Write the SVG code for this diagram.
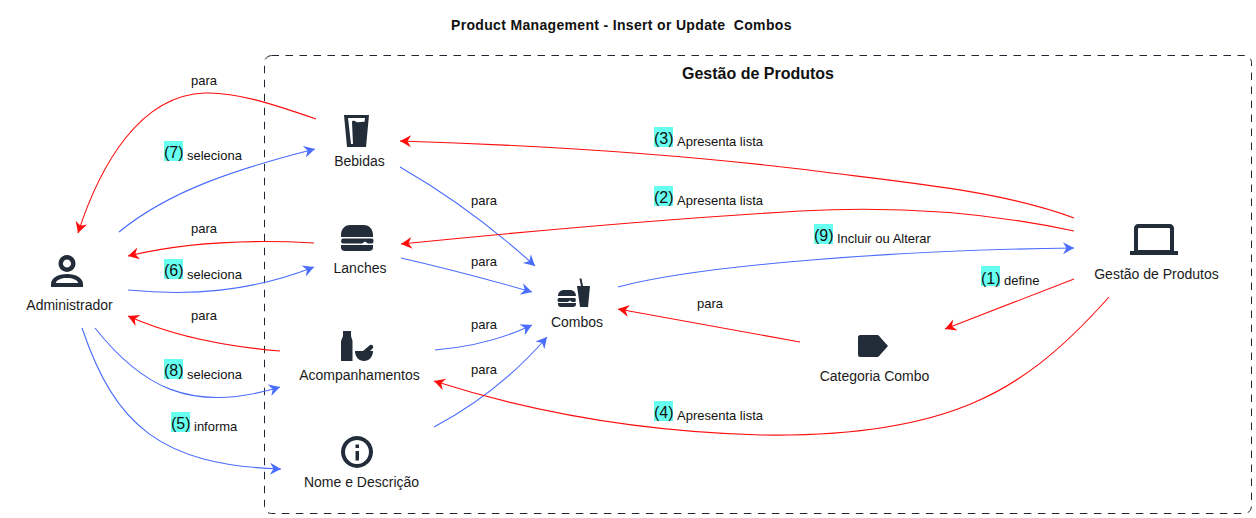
<svg xmlns="http://www.w3.org/2000/svg" width="1256" height="518" viewBox="0 0 1256 518">
<style>
text{font-family:"Liberation Sans",Arial,sans-serif;fill:#111;}
.n{font-size:14px;text-anchor:middle;fill:#1b1b1b}
.l{font-size:13px}
.s{font-size:16px}
.t{font-weight:bold}
.c{fill:none;stroke-width:1.1}
.r{stroke:#ff0d0d;marker-end:url(#mr)}
.b{stroke:#4a6cff;marker-end:url(#mb)}
.i{fill:#232d3a}
.h{fill:#66fff0}
</style>
<defs>
<marker id="mr" markerUnits="userSpaceOnUse" markerWidth="16" markerHeight="14" refX="13" refY="7" orient="auto"><path d="M13,7L2,1L5.500,7L2,13Z" fill="#ff0d0d"/></marker>
<marker id="mb" markerUnits="userSpaceOnUse" markerWidth="16" markerHeight="14" refX="13" refY="7" orient="auto"><path d="M13,7L2,1L5.500,7L2,13Z" fill="#4a6cff"/></marker>
</defs>
<rect width="1256" height="518" fill="#fff"/>
<text class="t" x="451" y="30" font-size="14" letter-spacing=".33" xml:space="preserve">Product Management - Insert or Update  Combos</text>
<g id="boundary"><rect x="264.500" y="55.500" width="987" height="458" rx="7" fill="none" stroke="#1f2630" stroke-width="1" stroke-dasharray="7.500 6.500"/>
<text class="t" x="758" y="79" font-size="16" text-anchor="middle">Gestão de Produtos</text></g>
<g id="connectors">
<path class="c r" d="M316,119C270,103 235,92 205,93C140,95 100,165 78,233"/>
<path class="c b" d="M119,232C170,190 240,168 315,149"/>
<path class="c r" d="M314,243C260,240 190,241 128,256"/>
<path class="c b" d="M128,290C190,296 250,292 314,267"/>
<path class="c r" d="M280,351C220,346 170,335 128,316"/>
<path class="c b" d="M95,328C140,385 190,415 280,387"/>
<path class="c b" d="M82,328C115,425 160,465 281,469"/>
<path class="c b" d="M400,167C440,190 490,225 535,266"/>
<path class="c b" d="M401,258C445,268 490,280 532,292"/>
<path class="c b" d="M435,350C470,347 505,338 532,325"/>
<path class="c b" d="M434,427C470,408 510,380 547,337"/>
<path class="c b" d="M618,287C700,265 900,250 1074,248"/>
<path class="c r" d="M800,342L618,309"/>
<path class="c r" d="M1074,279L945,329"/>
<path class="c r" d="M1074,218C1000,190 900,182 800,169C640,150 500,144 400,141"/>
<path class="c r" d="M1074,231C1000,215 910,205 800,211C680,218 540,230 401,244"/>
<path class="c r" d="M1109,297C1060,352 1020,383 973,403C910,430 830,436 761,435C650,432 540,415 434,381"/>
</g>
<g id="labels">
<text class="l" x="191" y="85">para</text>
<rect class="h" x="164" y="141" width="19" height="20"/><text class="s" x="164" y="158">(7)</text><text class="l" x="187" y="160">seleciona</text>
<text class="l" x="191" y="233">para</text>
<rect class="h" x="164" y="259" width="19" height="20"/><text class="s" x="164" y="276">(6)</text><text class="l" x="187" y="279">seleciona</text>
<text class="l" x="191" y="320">para</text>
<rect class="h" x="164" y="359" width="19" height="20"/><text class="s" x="164" y="376">(8)</text><text class="l" x="187" y="379">seleciona</text>
<rect class="h" x="171" y="412" width="19" height="20"/><text class="s" x="171" y="429">(5)</text><text class="l" x="194" y="431">informa</text>
<rect class="h" x="654" y="127" width="19" height="20"/><text class="s" x="654" y="144">(3)</text><text class="l" x="677" y="146">Apresenta lista</text>
<rect class="h" x="654" y="186" width="19" height="20"/><text class="s" x="654" y="203">(2)</text><text class="l" x="677" y="205">Apresenta lista</text>
<rect class="h" x="814" y="224" width="19" height="20"/><text class="s" x="814" y="241">(9)</text><text class="l" x="837" y="243">Incluir ou Alterar</text>
<rect class="h" x="981" y="266" width="19" height="20"/><text class="s" x="981" y="284">(1)</text><text class="l" x="1004" y="285">define</text>
<rect class="h" x="654" y="401" width="19" height="20"/><text class="s" x="654" y="418">(4)</text><text class="l" x="677" y="420">Apresenta lista</text>
<text class="l" x="471" y="205">para</text>
<text class="l" x="471" y="266">para</text>
<text class="l" x="471" y="329">para</text>
<text class="l" x="471" y="374">para</text>
<text class="l" x="697" y="308">para</text>
</g>
<g id="administrador">
<path class="i" fill-rule="evenodd" d="M67,255a8.500,8.500 0 1 0 .01,0ZM67,259.500a4,4 0 1 1 -.01,0ZM67,274C58,274 51,278 51,284V287H83V284C83,278 76,274 67,274ZM67,278C73,278 77.500,280 78.300,283H55.700C56.500,280 61,278 67,278Z"/>
<text class="n" x="69.500" y="310">Administrador</text></g>
<g id="bebidas">
<path class="i" fill-rule="evenodd" d="M344,115H369L366,147H347ZM348,118H365L364.500,122C361,121 358,124 355,121C353,120.500 352,121 352,122L353,144H351Z"/>
<text class="n" x="359.500" y="166">Bebidas</text></g>
<g id="lanches">
<path class="i" d="M341,235C341,228 346,225 350,225H364C368,225 373,228 373,235V237H341ZM343,238.500H372C374,238.500 374,243.500 372,243.500H368L365,241.500L362,243.500H343C340.500,243.500 340.500,238.500 343,238.500ZM341,245H373V248C373,250 371,251 369,251H345C343,251 341,250 341,248Z"/>
<text class="n" x="360" y="273">Lanches</text></g>
<g id="acompanhamentos">
<path class="i" d="M343,331H351V336L352.500,341V361H341V341L343,336ZM355,351H363L370,345C372,344 374,346 373,348L370,351H373C373,357 369,361 364,361C359,361 355,357 355,351Z"/>
<text class="n" x="359.500" y="380">Acompanhamentos</text></g>
<g id="nome">
<path class="i" fill-rule="evenodd" d="M357,436a16,16 0 1 0 .01,0ZM357,440a12,12 0 1 1 -.01,0ZM355.500,444.500h3.500v3.500h-3.500ZM355.500,451h3.500v9.500h-3.500Z"/>
<text class="n" x="361.500" y="487">Nome e Descrição</text></g>
<g id="combos">
<path class="i" d="M558,296C558,292 561,290 564,290H570C573,290 576,292 576,296ZM559,298H575C576,298 576,302 575,302H572L570,300.500L568,302H559C557,302 557,298 559,298ZM558,303H576V304C576,306 575,307 573,307H561C559,307 558,306 558,304ZM577,286H581L579.500,278.500H581.500L583,286H590L588,307H580Z"/>
<text class="n" x="577" y="327">Combos</text></g>
<g id="categoria">
<path class="i" d="M860,335H877C878,335 879,335.500 880,337L888,346L880,355C879,356.500 878,357 877,357H860C859,357 858,356 858,355V337C858,336 859,335 860,335Z"/>
<text class="n" x="874.500" y="381">Categoria Combo</text></g>
<g id="gestao">
<path class="i" fill-rule="evenodd" d="M1138,224H1170C1172,224 1174,226 1174,228V251H1178V255H1130V251H1134V228C1134,226 1136,224 1138,224ZM1139,228C1138.500,228 1138,228.500 1138,229V250H1170V229C1170,228.500 1169.500,228 1169,228Z"/>
<text class="n" x="1156.500" y="279">Gestão de Produtos</text></g>
</svg>
